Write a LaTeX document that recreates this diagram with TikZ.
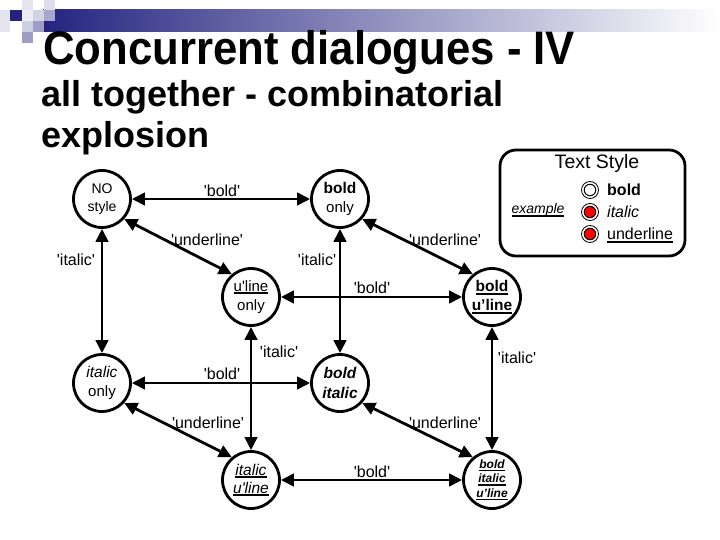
\documentclass[tikz,border=0pt]{standalone}
\usepackage{fontspec}
\usetikzlibrary{arrows.meta}
\newfontfamily\af{Liberation Sans}
\newfontfamily\tf[FakeStretch=0.93]{Liberation Sans}
\newcommand\myul[2][1.7pt]{\setbox0\hbox{#2}\rlap{\rule[-2.8pt]{\wd0}{#1}}\box0}
\definecolor{navy}{RGB}{36,36,128}
\begin{document}
\begin{tikzpicture}[x=1pt,y=-1pt,
  st/.style={circle,draw,line width=2.8pt,minimum size=57pt,inner sep=0pt,align=center,
    font=\af\fontsize{15}{19}\selectfont},
  tr/.style={line width=2.8pt,{Triangle[length=13pt,width=12.5pt]}-{Triangle[length=13pt,width=12.5pt]}},
  lb/.style={font=\af\fontsize{16}{18}\selectfont,inner sep=0pt},
  rout/.style={circle,draw,line width=0.8pt,fill=white,minimum size=17pt,inner sep=0pt},
  rin/.style={circle,draw,line width=1pt,minimum size=11.5pt,inner sep=0pt},
  leg/.style={anchor=base west,inner sep=0pt,font=\af\fontsize{16}{18}\selectfont}]
\useasboundingbox (0,0) rectangle (720,540);
\fill[white] (0,0) rectangle (720,540);
% header
\shade[left color=navy,right color=white] (43,10) rectangle (720,32);
\fill[navy!12] (0,10) rectangle (10,32);
\fill[navy] (10,10) rectangle (22,21);
\fill[navy!12] (22,0) rectangle (33,10);
\fill[navy!8] (22,10) rectangle (33,21);
\fill[navy!20] (33,10) rectangle (44,21);
\fill[navy!15] (44,0) rectangle (55,10);
\fill[navy!40] (44,10) rectangle (55,21);
\fill[navy!22] (22,21) rectangle (33,32);
\fill[navy!45] (33,21) rectangle (44,32);
\fill[navy!45] (22,32) rectangle (33,43);
% titles
\node[anchor=base west,inner sep=0pt,font=\tf\bfseries\fontsize{47}{50}\selectfont] (t1) at (43,65) {Concurrent dialogues - IV};
\node[anchor=base west,inner sep=0pt,font=\af\bfseries\fontsize{36}{40}\selectfont] (t2) at (41,107) {all together - combinatorial};
\node[anchor=base west,inner sep=0pt,font=\af\bfseries\fontsize{36}{40}\selectfont] (t3) at (41,148) {explosion};
% states
\node[st,font=\af\fontsize{14}{18}\selectfont] (no) at (102,199) {NO\\style};
\node[st] (b) at (340,199) {{\bfseries\fontsize{15.5}{19}\selectfont bold}\\only};
\node[st] (u) at (251,297) {\myul{u'line}\\only};
\node[st,font=\af\bfseries\fontsize{15.5}{19}\selectfont] (bu) at (492,297) {\myul{bold}\\\myul{u’line}};
\node[st] (i) at (102,383) {{\itshape\fontsize{15.5}{19}\selectfont italic}\\only};
\node[st,font=\af\bfseries\itshape\fontsize{15.5}{20}\selectfont] (bi) at (340,383) {bold\\italic};
\node[st,font=\af\itshape\fontsize{15.5}{18}\selectfont] (iu) at (251,480) {\myul{italic}\\\myul{u'line}};
\node[st,font=\af\bfseries\itshape\fontsize{12}{14.5}\selectfont] (biu) at (492,480) {\myul[1.5pt]{bold}\\\myul[1.5pt]{italic}\\\myul[1.5pt]{u’line}};
% transitions
\draw[tr] (no) -- (b);
\draw[tr] (no) -- (i);
\draw[tr] (no.-42) -- (u.130);
\draw[tr] (b) -- (bi);
\draw[tr] (b.-42) -- (bu.130);
\draw[tr] (u) -- (bu);
\draw[tr] (u) -- (iu);
\draw[tr] (bu) -- (biu);
\draw[tr] (i) -- (bi);
\draw[tr] (i.-42) -- (iu.130);
\draw[tr] (bi.-42) -- (biu.130);
\draw[tr] (iu) -- (biu);
% labels
\node[lb] (l1) at (222,191) {'bold'};
\node[lb] (l2) at (207,240) {'underline'};
\node[lb] (l3) at (76,260) {'italic'};
\node[lb] (l4) at (317,260) {'italic'};
\node[lb] (l5) at (445,240) {'underline'};
\node[lb] (l6) at (372,288) {'bold'};
\node[lb] (l7) at (279,352) {'italic'};
\node[lb] (l8) at (222,374) {'bold'};
\node[lb] (l9) at (208,423) {'underline'};
\node[lb] (l10) at (517,358) {'italic'};
\node[lb] (l11) at (445,423) {'underline'};
\node[lb] (l12) at (372,472) {'bold'};
% legend
\draw[line width=2.8pt,rounded corners=16pt] (500,150) rectangle (685,256);
\node[inner sep=0pt,font=\af\fontsize{19.5}{22}\selectfont] (ts) at (597,163) {Text Style};
\node[anchor=base,inner sep=0pt,font=\af\itshape\fontsize{14}{16}\selectfont] (ex) at (538,214) {\myul{example}};
\node[rout] (r1) at (590,190) {};
\node[rin,fill=white] (r1i) at (r1) {};
\node[rout] (r2) at (590,212) {};
\node[rin,fill=red] (r2i) at (r2) {};
\node[rout] (r3) at (590,234) {};
\node[rin,fill=red] (r3i) at (r3) {};
\node[leg] (k1) at (607,196) {\bfseries bold};
\node[leg] (k2) at (607,218) {\itshape italic};
\node[leg] (k3) at (607,240) {\myul{underline}};
\end{tikzpicture}
\end{document}
